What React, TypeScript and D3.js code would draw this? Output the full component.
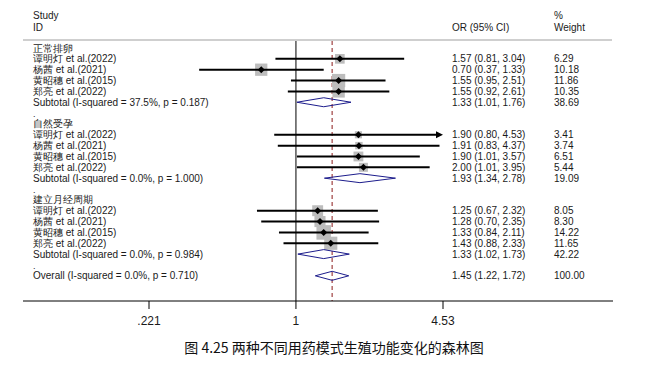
import * as d3 from "d3";

const groups = ["正常排卵", "自然受孕", "建立月经周期"];
const studies = ["谭明灯 et al.(2022)", "杨茜 et al.(2021)", "黄昭穗 et al.(2015)", "郑亮 et al.(2022)"];
const estimates = [
  [1.57, 0.70, 1.55, 1.55],
  [1.90, 1.91, 1.90, 2.00],
  [1.25, 1.28, 1.33, 1.43],
];
const lowers = [
  [0.81, 0.37, 0.95, 0.92],
  [0.80, 0.83, 1.01, 1.01],
  [0.67, 0.70, 0.84, 0.88],
];
const uppers = [
  [3.04, 1.33, 2.51, 2.61],
  [4.53, 4.37, 3.57, 3.95],
  [2.32, 2.35, 2.11, 2.33],
];
const weights = [
  [6.29, 10.18, 11.86, 10.35],
  [3.41, 3.74, 6.51, 5.44],
  [8.05, 8.30, 14.22, 11.65],
];
const subEst = [1.33, 1.93, 1.33];
const subLo = [1.01, 1.34, 1.02];
const subHi = [1.76, 2.78, 1.73];
const subWeight = [38.69, 19.09, 42.22];
const subHet = ["I-squared = 37.5%, p = 0.187", "I-squared = 0.0%, p = 1.000", "I-squared = 0.0%, p = 0.984"];
const overall = [1.45, 1.22, 1.72];
const overallHet = "I-squared = 0.0%, p = 0.710";
const ticks = [0.221, 1, 4.53];
const tickLabels = [".221", "1", "4.53"];
const caption = "图 4.25 两种不同用药模式生殖功能变化的森林图";

const W = 651;
const H = 366;
const font = "'Liberation Sans', Arial, sans-serif";
const fmt = d3.format(".2f");

export default function App() {
  const x = d3.scaleLog().domain([0.221, 4.53]).range([149, 443]);
  const row = d3.scaleLinear().domain([0, 21]).range([48, 275.8]);
  const plotTop = 40;
  const axisY = 301;
  const colStudy = 33;
  const colOR = 452;
  const colW = 554;
  const txt = "#1a1a1a";
  const navy = "#1c1c8c";
  const m = 3.5; // half size of the point marker

  const rows: JSX.Element[] = [];
  groups.forEach((g, gi) => {
    const base = gi * 7;
    rows.push(<text key={`g${gi}`} x={colStudy} y={row(base)} dy="0.35em">{g}</text>);
    studies.forEach((s, si) => {
      const y = row(base + 1 + si);
      const est = estimates[gi][si];
      const lo = lowers[gi][si];
      const hi = uppers[gi][si];
      const side = 3.85 * Math.sqrt(weights[gi][si]);
      const arrow = hi >= 4.53;
      const xe = x(Math.min(hi, 4.53));
      rows.push(
        <g key={`s${gi}-${si}`}>
          <text x={colStudy} y={y} dy="0.35em">{s}</text>
          <rect x={x(est) - side / 2} y={y - side / 2} width={side} height={side} fill="#bdbdbd" />
          <line x1={x(lo)} x2={arrow ? xe - 4 : xe} y1={y} y2={y} stroke="#000" strokeWidth={2} />
          {arrow && <path d={`M${xe - 7},${y - 3.5}L${xe},${y}L${xe - 7},${y + 3.5}Z`} fill="#000" />}
          <path d={`M${x(est) - m},${y}L${x(est)},${y - m}L${x(est) + m},${y}L${x(est)},${y + m}Z`} fill="#000" />
          <text x={colOR} y={y} dy="0.35em">{`${fmt(est)} (${fmt(lo)}, ${fmt(hi)})`}</text>
          <text x={colW} y={y} dy="0.35em">{fmt(weights[gi][si])}</text>
        </g>
      );
    });
    const ys = row(base + 5);
    rows.push(
      <g key={`sub${gi}`}>
        <text x={colStudy} y={ys} dy="0.35em">{`Subtotal  (${subHet[gi]})`}</text>
        <path
          d={`M${x(subLo[gi])},${ys}L${x(subEst[gi])},${ys - 4.5}L${x(subHi[gi])},${ys}L${x(subEst[gi])},${ys + 4.5}Z`}
          fill="none" stroke={navy} strokeWidth={1} />
        <text x={colOR} y={ys} dy="0.35em">{`${fmt(subEst[gi])} (${fmt(subLo[gi])}, ${fmt(subHi[gi])})`}</text>
        <text x={colW} y={ys} dy="0.35em">{fmt(subWeight[gi])}</text>
        <text x={colStudy} y={row(base + 6) + 1} dy="0.35em" fontSize={9}>.</text>
      </g>
    );
  });
  const yo = row(21);

  return (
    <svg width={W} height={H} style={{ position: "absolute", left: 0, top: 0, background: "#fff", whiteSpace: "pre" }}
      fontFamily={font} fontSize={10} fill={txt}>
      <text x={colStudy} y={15} dy="0.35em">Study</text>
      <text x={colStudy} y={27} dy="0.35em">ID</text>
      <text x={colOR} y={27} dy="0.35em">OR (95% CI)</text>
      <text x={colW} y={15} dy="0.35em">%</text>
      <text x={colW} y={27} dy="0.35em">Weight</text>
      <line x1={23} x2={612} y1={plotTop} y2={plotTop} stroke="#cfcfcf" strokeWidth={2} />

      <line x1={x(1)} x2={x(1)} y1={plotTop + 1} y2={axisY} stroke="#000" strokeWidth={1} />
      <line x1={x(overall[0])} x2={x(overall[0])} y1={plotTop + 1} y2={axisY} stroke="#8b1a1a"
        strokeWidth={1} strokeDasharray="4,3" />

      {rows}

      <text x={colStudy} y={yo} dy="0.35em">{`Overall  (${overallHet})`}</text>
      <path
        d={`M${x(overall[1])},${yo}L${x(overall[0])},${yo - 4.5}L${x(overall[2])},${yo}L${x(overall[0])},${yo + 4.5}Z`}
        fill="none" stroke={navy} strokeWidth={1} />
      <text x={colOR} y={yo} dy="0.35em">{`${fmt(overall[0])} (${fmt(overall[1])}, ${fmt(overall[2])})`}</text>
      <text x={colW} y={yo} dy="0.35em">100.00</text>

      <line x1={23} x2={613} y1={axisY} y2={axisY} stroke="#000" strokeWidth={1} />
      {ticks.map((t, i) => (
        <g key={`t${i}`}>
          <line x1={x(t)} x2={x(t)} y1={axisY} y2={axisY + 8} stroke="#000" strokeWidth={1} />
          <text x={x(t)} y={axisY + 20} dy="0.35em" textAnchor="middle" fontSize={12}>{tickLabels[i]}</text>
        </g>
      ))}

      <text x={334} y={348} dy="0.35em" textAnchor="middle" fontSize={14}
        fontFamily="'Noto Sans CJK SC', sans-serif" fill="#111">{caption}</text>
    </svg>
  );
}
